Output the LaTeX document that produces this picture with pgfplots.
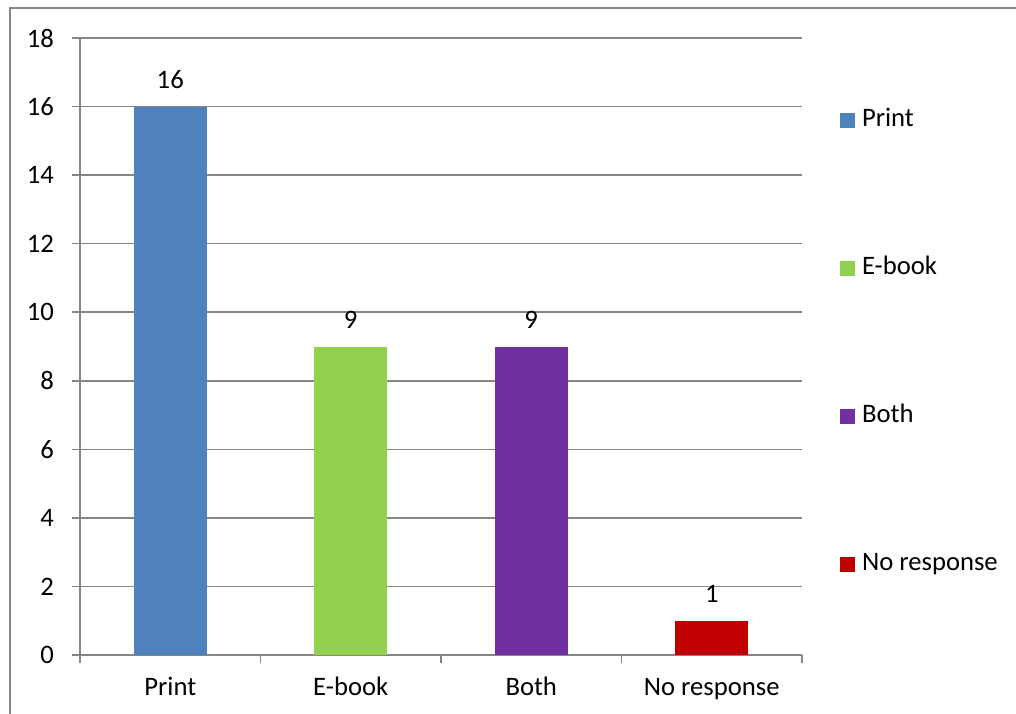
\documentclass[border=0pt]{standalone}
\usepackage{fontspec}
\setmainfont{Carlito}
\usepackage{pgfplots}
\pgfplotsset{compat=1.18}
\definecolor{axisgray}{HTML}{868686}
\definecolor{cPrint}{HTML}{4F81BD}
\definecolor{cEbook}{HTML}{92D050}
\definecolor{cBoth}{HTML}{7030A0}
\definecolor{cNone}{HTML}{C00000}
\newcommand{\chartfont}{\fontsize{20}{24}\selectfont}
\pgfplotsset{
  sq legend/.style={legend image code/.code={\path[fill,draw=none] (0pt,-5.6pt) rectangle (11.25pt,5.6pt);}},
}
\begin{document}
\begin{tikzpicture}[font=\chartfont]
% page frame
\path[use as bounding box] (0,0) rectangle (762pt,-534.75pt);
\draw[axisgray, line width=1.5pt] (7.5pt,-540pt) -- (7.5pt,-6pt) -- (770pt,-6pt);
\begin{axis}[
  at={(60pt,-491.25pt)}, anchor=south west,
  scale only axis, width=541.5pt, height=462.75pt,
  xmin=0, xmax=4, ymin=0, ymax=18,
  ytick={0,2,...,18},
  xtick={0,1,2,3,4},
  x tick label as interval,
  xticklabels={Print,E-book,Both,No response},
  axis lines*=left,
  axis line style={axisgray, line width=1.2pt},
  ymajorgrids, grid style={axisgray, line width=1.2pt},
  tick style={axisgray, line width=1.2pt},
  tick align=outside, major tick length=6pt,
  /pgf/number format/assume math mode=true,
  tick label style={font=\chartfont, text=black},
  yticklabel style={xshift=-10pt},
  xticklabel style={text height=14pt, text depth=4pt, yshift=-7pt},
  ybar, bar width=54.75pt,
  nodes near coords,
  nodes near coords style={font=\chartfont, text=black, anchor=south, inner sep=0pt, yshift=13.5pt},
  legend style={at={(1.0463,0.506)}, anchor=west, draw=none, fill=none,
    font=\chartfont, row sep=92pt, column sep=4.5pt, cells={anchor=west},
    nodes={inner sep=1pt, text height=13pt, text depth=4pt}},
]
\addplot[fill=cPrint, draw=none, bar shift=0pt, sq legend] coordinates {(0.5,16)};
\addplot[fill=cEbook, draw=none, bar shift=0pt, sq legend] coordinates {(1.5,9)};
\addplot[fill=cBoth, draw=none, bar shift=0pt, sq legend] coordinates {(2.5,9)};
\addplot[fill=cNone, draw=none, bar shift=0pt, sq legend] coordinates {(3.5,1)};
\legend{Print,E-book,Both,No response}
\end{axis}
\end{tikzpicture}
\end{document}
